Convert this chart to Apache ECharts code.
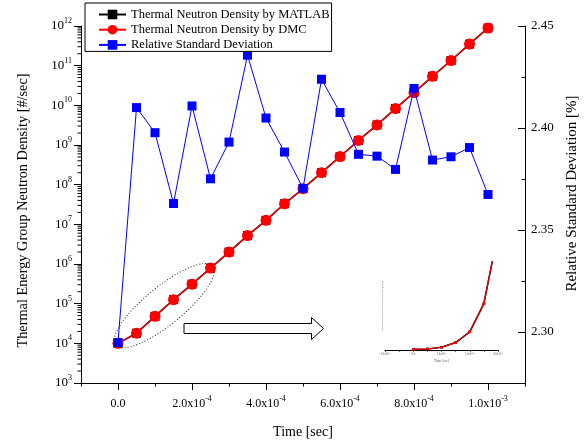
<!DOCTYPE html>
<html>
<head>
<meta charset="utf-8">
<script src="https://cdn.jsdelivr.net/npm/echarts@6/dist/echarts.min.js"></script>
<style>
  html, body { margin: 0; padding: 0; background: #fff; }
  #chart { width: 587px; height: 440px; }
</style>
</head>
<body>
<div id="chart"></div>
<script>
// Time steps [sec]
const timeSec = [0, 0.00005, 0.0001, 0.00015, 0.0002, 0.00025, 0.0003, 0.00035, 0.0004, 0.00045,
  0.0005, 0.00055, 0.0006, 0.00065, 0.0007, 0.00075, 0.0008, 0.00085, 0.0009, 0.00095, 0.001];

// Thermal energy group neutron density [#/sec]
const densityMatlab = [1.0e4, 1.8e4, 4.8e4, 1.26e5, 3.1e5, 7.9e5, 2.0e6, 5.2e6, 1.26e7, 3.3e7,
  7.9e7, 2.0e8, 5.1e8, 1.3e9, 3.2e9, 8.3e9, 2.1e10, 5.4e10, 1.35e11, 3.5e11, 8.9e11];
const densityDmc = [1.0e4, 1.8e4, 4.8e4, 1.26e5, 3.1e5, 7.9e5, 2.0e6, 5.2e6, 1.26e7, 3.3e7,
  7.9e7, 2.0e8, 5.1e8, 1.3e9, 3.2e9, 8.3e9, 2.1e10, 5.4e10, 1.35e11, 3.5e11, 8.9e11];

// Relative standard deviation [%]
const rsdPercent = [2.2948, 2.4100, 2.3977, 2.3630, 2.4108, 2.3751, 2.3931, 2.4357, 2.4049, 2.3882,
  2.3704, 2.4239, 2.4076, 2.3871, 2.3862, 2.3797, 2.4194, 2.3843, 2.3859, 2.3904, 2.3674];

// Axis ticks
const timeMajorTicks = [0, 0.0002, 0.0004, 0.0006, 0.0008, 0.001];
const rsdMajorTicks = [2.30, 2.35, 2.40, 2.45];
const logMinorTicks = [];
for (let e = 3; e < 12; e++) {
  for (let m = 2; m <= 9; m++) logMinorTicks.push(m * Math.pow(10, e));
}

// Early-time points shown in the linear-scale inset
const insetCount = 7;

const SERIF = 'Liberation Serif';
const names = ['Thermal Neutron Density by MATLAB', 'Thermal Neutron Density by DMC', 'Relative Standard Deviation'];

function pairs(xs, ys) { return ys.map((y, i) => [xs[i], y]); }

function sciLabel(v) {
  if (Math.abs(v) < 1e-12) return '{b|0.0}';
  const e = Math.floor(Math.log10(Math.abs(v)) + 1e-9);
  const m = v / Math.pow(10, e);
  return '{b|' + m.toFixed(1) + 'x10}{s|' + e + '}';
}
function isMultiple(v, step) {
  const r = v / step;
  return Math.abs(r - Math.round(r)) < 1e-6;
}

const richMain = {
  b: { fontFamily: SERIF, fontSize: 12, lineHeight: 17, color: '#000' },
  s: { fontFamily: SERIF, fontSize: 8, lineHeight: 9, verticalAlign: 'top', color: '#000' }
};
const richLeft = {
  b: { fontFamily: SERIF, fontSize: 13, lineHeight: 18, color: '#000' },
  s: { fontFamily: SERIF, fontSize: 8, lineHeight: 9, verticalAlign: 'top', color: '#000' }
};
const richInset = {
  b: { fontFamily: SERIF, fontSize: 3, lineHeight: 4, color: '#555' },
  s: { fontFamily: SERIF, fontSize: 2, lineHeight: 2, verticalAlign: 'top', color: '#555' }
};

const blackLine = { color: '#000', width: 1 };
const xMin = -0.0001, xMax = 0.0011;

const chart = echarts.init(document.getElementById('chart'), null, { renderer: 'canvas' });

chart.setOption({
  animation: false,
  backgroundColor: '#fff',
  grid: [
    { left: 81, right: 62, top: 26, bottom: 57, containLabel: false, outerBoundsMode: 'none' },
    { left: 385, top: 262, width: 113, height: 88, containLabel: false, outerBoundsMode: 'none' }
  ],
  legend: {
    data: names,
    orient: 'vertical',
    left: 85,
    top: 3,
    itemWidth: 27,
    itemHeight: 12,
    itemGap: 2.2,
    padding: [5, 2, 0, 13],
    borderColor: '#000',
    borderWidth: 1,
    backgroundColor: '#fff',
    selectedMode: false,
    textStyle: { fontFamily: SERIF, fontSize: 12.5, color: '#000' },
    z: 10
  },
  xAxis: [
    {
      type: 'value', gridIndex: 0, position: 'bottom', min: xMin, max: xMax, interval: 0.0001,
      name: 'Time [sec]', nameLocation: 'middle', nameGap: 42,
      nameTextStyle: { fontFamily: SERIF, fontSize: 14, color: '#000' },
      axisLine: { show: true, onZero: false, lineStyle: blackLine },
      axisTick: { show: true, length: 3.5, lineStyle: blackLine },
      axisLabel: {
        margin: 12,
        formatter: v => (isMultiple(v, 0.0002) && v > -1e-9 && v < 0.00105) ? sciLabel(v) : '',
        rich: richMain
      },
      splitLine: { show: false }
    },
    {
      type: 'value', gridIndex: 0, position: 'bottom', min: xMin, max: xMax,
      axisLine: { show: false, onZero: false },
      axisTick: { show: true, length: 7, customValues: timeMajorTicks, lineStyle: blackLine },
      axisLabel: { show: false },
      splitLine: { show: false }
    },
    {
      type: 'value', gridIndex: 1, position: 'bottom', min: -0.0001, max: 0.0003, interval: 0.00005,
      name: 'Time [sec]', nameLocation: 'middle', nameGap: 9,
      nameTextStyle: { fontFamily: SERIF, fontSize: 3.5, color: '#555' },
      axisLine: { show: true, onZero: false, lineStyle: { color: '#000', width: 1 } },
      axisTick: { show: true, length: 2, lineStyle: { color: '#000', width: 0.6 } },
      axisLabel: {
        margin: 2.5,
        formatter: v => isMultiple(v, 0.0001) ? sciLabel(v) : '',
        rich: richInset
      },
      splitLine: { show: false }
    }
  ],
  yAxis: [
    {
      type: 'log', gridIndex: 0, position: 'left', logBase: 10, min: 1e3, max: 1e12, splitNumber: 9,
      name: 'Thermal Energy Group Neutron Density [#/sec]', nameLocation: 'middle', nameGap: 51,
      nameTextStyle: { fontFamily: SERIF, fontSize: 14.3, color: '#000', padding: [0, 12, 0, 0] },
      axisLine: { show: true, onZero: false, lineStyle: blackLine },
      axisTick: { show: true, length: 7, lineStyle: blackLine },
      axisLabel: {
        margin: 9,
        formatter: v => '{b|10}{s|' + Math.round(Math.log10(v)) + '}',
        rich: richLeft
      },
      splitLine: { show: false }
    },
    {
      type: 'value', gridIndex: 0, position: 'right', min: 2.275, max: 2.45, interval: 0.025,
      name: 'Relative Standard Deviation [%]', nameLocation: 'middle', nameGap: 39,
      nameTextStyle: { fontFamily: SERIF, fontSize: 15, color: '#000', padding: [0, 0, 0, 22] },
      axisLine: { show: true, onZero: false, lineStyle: blackLine },
      axisTick: { show: true, inside: true, length: 3.5, lineStyle: blackLine },
      axisLabel: {
        margin: 6,
        fontFamily: SERIF, fontSize: 13, color: '#000',
        formatter: v => (isMultiple(v, 0.05) && v > 2.28) ? v.toFixed(2) : ''
      },
      splitLine: { show: false }
    },
    {
      type: 'value', gridIndex: 0, position: 'right', min: 2.275, max: 2.45,
      axisLine: { show: false, onZero: false },
      axisTick: { show: true, inside: true, length: 7, customValues: rsdMajorTicks, lineStyle: blackLine },
      axisLabel: { show: false },
      splitLine: { show: false }
    },
    {
      type: 'value', gridIndex: 1, position: 'left', min: 0, max: 1.5e6, interval: 5e5,
      name: 'Thermal Energy Group Neutron Density [#/sec]', nameLocation: 'middle', nameGap: 1,
      nameTextStyle: { fontFamily: SERIF, fontSize: 2.6, color: '#666' },
      axisLine: { show: false, onZero: false },
      axisTick: { show: false },
      axisLabel: { show: false },
      splitLine: { show: false }
    }
  ],
  series: [
    {
      name: names[0], type: 'line', xAxisIndex: 0, yAxisIndex: 0,
      data: pairs(timeSec, densityMatlab),
      symbol: 'rect', symbolSize: 9,
      itemStyle: { color: '#000' }, lineStyle: { color: '#000', width: 1.6 },
      z: 3
    },
    {
      name: names[1], type: 'line', xAxisIndex: 0, yAxisIndex: 0,
      data: pairs(timeSec, densityDmc),
      symbol: 'circle', symbolSize: 11,
      itemStyle: { color: '#ff0000' }, lineStyle: { color: '#ff0000', width: 1.3 },
      z: 4
    },
    {
      name: names[2], type: 'line', xAxisIndex: 0, yAxisIndex: 1,
      data: pairs(timeSec, rsdPercent),
      symbol: 'rect', symbolSize: 9,
      itemStyle: { color: '#0000ff' }, lineStyle: { color: '#0000ff', width: 1 },
      z: 5
    },
    {
      name: names[0], type: 'line', xAxisIndex: 2, yAxisIndex: 3,
      data: pairs(timeSec.slice(0, insetCount), densityMatlab.slice(0, insetCount)),
      symbol: 'rect', symbolSize: 2.5,
      itemStyle: { color: '#000' }, lineStyle: { color: '#000', width: 1.6 },
      z: 3
    },
    {
      name: names[1], type: 'line', xAxisIndex: 2, yAxisIndex: 3,
      data: pairs(timeSec.slice(0, insetCount), densityDmc.slice(0, insetCount)),
      symbol: 'circle', symbolSize: 3,
      itemStyle: { color: '#ff0000' }, lineStyle: { color: '#ff0000', width: 1.1 },
      z: 4
    }
  ]
});

// Minor decade ticks on the logarithmic axis, placed through the axis scale
const axisX = chart.convertToPixel({ xAxisIndex: 0 }, xMin);
const minorTickGraphics = logMinorTicks.map(v => {
  const y = chart.convertToPixel({ yAxisIndex: 0 }, v);
  return {
    type: 'line', silent: true,
    shape: { x1: axisX - 3.5, y1: y, x2: axisX, y2: y },
    style: { stroke: '#000', lineWidth: 1 },
    z: 5
  };
});

// Dotted ellipse around the early-time points and a hollow arrow toward the inset
const pA = chart.convertToPixel({ xAxisIndex: 0, yAxisIndex: 0 }, [timeSec[0], densityDmc[0]]);
const pB = chart.convertToPixel({ xAxisIndex: 0, yAxisIndex: 0 }, [timeSec[5], densityDmc[5]]);
const cx = (pA[0] + pB[0]) / 2, cy = (pA[1] + pB[1]) / 2;
const half = Math.hypot(pB[0] - pA[0], pB[1] - pA[1]) / 2 + 3;
const ang = Math.atan2(pA[1] - pB[1], pB[0] - pA[0]);

chart.setOption({
  graphic: minorTickGraphics.concat([
    {
      type: 'ellipse', x: cx, y: cy, rotation: ang,
      shape: { cx: 0, cy: 0, rx: half, ry: 19 },
      style: { fill: null, stroke: '#222', lineWidth: 1, lineDash: [1, 2] },
      z: 20
    },
    {
      type: 'polygon',
      shape: { points: [[184, 323.5], [311.5, 323.5], [311.5, 317.5], [323.5, 328.5], [311.5, 339.5], [311.5, 333.5], [184, 333.5]] },
      style: { fill: '#fff', stroke: '#000', lineWidth: 1 },
      z: 20
    }
  ])
});
</script>
</body>
</html>
